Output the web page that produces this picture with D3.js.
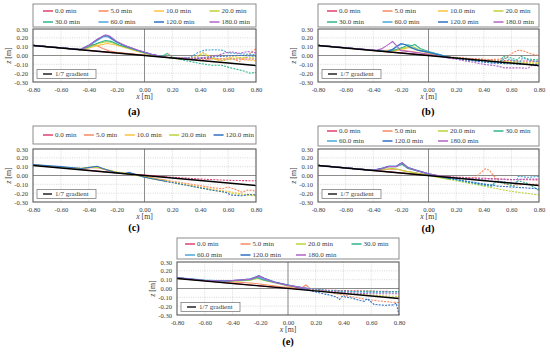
<!DOCTYPE html>
<html><head><meta charset="utf-8">
<script src="https://cdn.jsdelivr.net/npm/d3@7"></script>
<style>body{margin:0;background:#fff}svg{display:block}</style>
</head><body><svg id="c" width="550" height="353"></svg>
<script>
const xTicks = [-0.8,-0.6,-0.4,-0.2,0,0.2,0.4,0.6,0.8];
const zTicks = [0.3,0.2,0.1,0,-0.1,-0.2,-0.3];
const seriesNames = ["0.0 min","5.0 min","10.0 min","20.0 min","30.0 min","60.0 min","120.0 min","180.0 min"];
const seriesColors = ["#e2406f","#f98a62","#fcc33e","#bdd23a","#2fb68c","#47a7d7","#2f71c3","#b063c6"];
const gradientLine = [[-0.80,0.114],[0.80,-0.114]];
const gradientLabel = "1/7 gradient";

// ---- (a)
const a00=[[-0.80,0.115],[-0.60,0.086],[-0.40,0.058],[-0.20,0.030],[0.00,0.003],[0.15,-0.020],[0.30,-0.030],[0.45,-0.035],[0.60,-0.040],[0.80,-0.040]];
const a05=[[-0.80,0.115],[-0.46,0.067],[-0.41,0.095],[-0.37,0.125],[-0.34,0.110],[-0.30,0.080],[-0.25,0.050],[-0.20,0.035],[-0.10,0.020],[0.00,0.005],[0.10,-0.010],[0.15,-0.020],[0.17,0.030],[0.19,-0.020],[0.30,-0.030],[0.40,-0.050],[0.50,-0.035],[0.55,-0.060],[0.62,-0.030],[0.68,-0.070],[0.74,0.000],[0.80,0.080]];
const a10=[[-0.80,0.115],[-0.46,0.067],[-0.40,0.085],[-0.33,0.115],[-0.27,0.135],[-0.22,0.125],[-0.15,0.095],[-0.05,0.045],[0.05,0.005],[0.15,-0.020],[0.25,-0.040],[0.33,-0.040],[0.38,0.000],[0.42,0.035],[0.46,0.000],[0.52,-0.050],[0.58,-0.030],[0.65,-0.010],[0.72,-0.050],[0.80,-0.060]];
const a20=[[-0.80,0.115],[-0.46,0.067],[-0.40,0.095],[-0.33,0.135],[-0.28,0.155],[-0.24,0.150],[-0.18,0.115],[-0.08,0.065],[0.02,0.020],[0.12,-0.015],[0.22,-0.035],[0.32,-0.040],[0.38,-0.010],[0.42,0.020],[0.48,-0.030],[0.55,-0.060],[0.62,-0.040],[0.70,-0.020],[0.80,-0.030]];
const a30=[[-0.80,0.115],[-0.46,0.067],[-0.40,0.100],[-0.33,0.145],[-0.28,0.170],[-0.24,0.160],[-0.18,0.120],[-0.08,0.070],[0.02,0.020],[0.12,-0.010],[0.16,0.020],[0.20,-0.020],[0.30,-0.060],[0.40,-0.090],[0.48,-0.110],[0.55,-0.110],[0.62,-0.140],[0.70,-0.170],[0.76,-0.200],[0.80,-0.190]];
const a60=[[-0.80,0.115],[-0.46,0.067],[-0.40,0.110],[-0.34,0.170],[-0.29,0.215],[-0.26,0.210],[-0.20,0.150],[-0.14,0.110],[-0.05,0.060],[0.05,0.015],[0.15,-0.020],[0.25,-0.030],[0.33,-0.020],[0.38,0.030],[0.43,0.060],[0.50,0.065],[0.56,0.060],[0.60,0.030],[0.68,0.020],[0.80,0.010]];
const a120=[[-0.80,0.115],[-0.46,0.067],[-0.40,0.115],[-0.34,0.180],[-0.29,0.225],[-0.26,0.220],[-0.20,0.155],[-0.14,0.110],[-0.05,0.060],[0.05,0.015],[0.15,-0.020],[0.25,-0.035],[0.35,-0.040],[0.45,-0.020],[0.55,-0.010],[0.65,0.000],[0.72,0.000],[0.80,-0.010]];
const a180=[[-0.80,0.115],[-0.46,0.067],[-0.40,0.115],[-0.34,0.185],[-0.28,0.235],[-0.25,0.220],[-0.20,0.160],[-0.14,0.112],[-0.05,0.062],[0.05,0.015],[0.15,-0.020],[0.25,-0.030],[0.35,-0.030],[0.45,-0.020],[0.52,0.000],[0.58,0.030],[0.63,0.040],[0.68,0.025],[0.74,0.045],[0.80,0.030]];
// ---- (b)
const b00=[[-0.80,0.115],[-0.40,0.058],[-0.20,0.030],[0.00,0.003],[0.15,-0.020],[0.30,-0.035],[0.45,-0.050],[0.60,-0.060],[0.80,-0.065]];
const b05=[[-0.80,0.115],[-0.36,0.053],[-0.30,0.058],[-0.24,0.065],[-0.19,0.060],[-0.12,0.045],[-0.05,0.025],[0.05,0.005],[0.15,-0.015],[0.30,-0.035],[0.45,-0.045],[0.52,-0.040],[0.57,-0.020],[0.61,0.030],[0.65,0.060],[0.69,0.050],[0.74,0.020],[0.80,0.000]];
const b10=[[-0.80,0.115],[-0.30,0.045],[-0.24,0.055],[-0.18,0.075],[-0.14,0.090],[-0.10,0.075],[-0.05,0.045],[0.05,0.010],[0.15,-0.020],[0.30,-0.045],[0.45,-0.060],[0.60,-0.070],[0.70,-0.080],[0.80,-0.085]];
const b20=[[-0.80,0.115],[-0.30,0.045],[-0.24,0.060],[-0.18,0.085],[-0.13,0.105],[-0.10,0.090],[-0.05,0.055],[0.05,0.015],[0.15,-0.020],[0.30,-0.050],[0.45,-0.065],[0.60,-0.075],[0.70,-0.085],[0.80,-0.090]];
const b30=[[-0.80,0.115],[-0.30,0.045],[-0.24,0.065],[-0.18,0.095],[-0.15,0.120],[-0.12,0.110],[-0.10,0.125],[-0.06,0.080],[0.00,0.045],[0.08,0.010],[0.15,-0.020],[0.30,-0.050],[0.45,-0.070],[0.52,-0.070],[0.54,-0.010],[0.58,-0.020],[0.64,-0.050],[0.67,-0.010],[0.72,-0.040],[0.80,-0.050]];
const b60=[[-0.80,0.115],[-0.30,0.045],[-0.26,0.065],[-0.22,0.110],[-0.19,0.130],[-0.16,0.120],[-0.13,0.095],[-0.08,0.065],[0.00,0.040],[0.08,0.010],[0.15,-0.020],[0.30,-0.055],[0.45,-0.080],[0.52,-0.080],[0.55,-0.030],[0.62,-0.060],[0.66,-0.080],[0.68,-0.030],[0.75,-0.060],[0.80,-0.070]];
const b120=[[-0.80,0.115],[-0.30,0.045],[-0.26,0.070],[-0.22,0.115],[-0.20,0.135],[-0.17,0.125],[-0.13,0.090],[-0.08,0.060],[0.00,0.035],[0.08,0.005],[0.15,-0.020],[0.30,-0.055],[0.45,-0.085],[0.60,-0.095],[0.70,-0.100],[0.80,-0.105]];
const b180=[[-0.80,0.115],[-0.38,0.060],[-0.34,0.075],[-0.30,0.115],[-0.26,0.158],[-0.23,0.110],[-0.20,0.055],[-0.12,0.040],[-0.05,0.025],[0.05,0.000],[0.15,-0.030],[0.30,-0.070],[0.40,-0.100],[0.50,-0.120],[0.55,-0.140],[0.65,-0.140],[0.72,-0.145],[0.75,-0.110],[0.80,-0.120]];
// ---- (c)
const c00=[[-0.80,0.120],[-0.60,0.090],[-0.40,0.060],[-0.20,0.030],[0.00,0.005],[0.20,-0.020],[0.40,-0.040],[0.60,-0.055],[0.80,-0.060]];
const c05=[[-0.80,0.120],[-0.55,0.085],[-0.45,0.080],[-0.38,0.090],[-0.33,0.085],[-0.28,0.065],[-0.20,0.035],[-0.10,0.015],[0.00,-0.010],[0.10,-0.040],[0.20,-0.065],[0.30,-0.090],[0.40,-0.115],[0.50,-0.140],[0.56,-0.150],[0.60,-0.130],[0.64,-0.150],[0.70,-0.190],[0.74,-0.165],[0.78,-0.170],[0.80,-0.190]];
const c10=[[-0.80,0.120],[-0.55,0.085],[-0.45,0.080],[-0.38,0.092],[-0.33,0.090],[-0.28,0.065],[-0.20,0.035],[-0.10,0.015],[0.00,-0.015],[0.10,-0.045],[0.20,-0.075],[0.30,-0.100],[0.40,-0.130],[0.50,-0.160],[0.60,-0.180],[0.70,-0.210],[0.80,-0.220]];
const c20=[[-0.80,0.120],[-0.55,0.085],[-0.45,0.082],[-0.38,0.095],[-0.33,0.095],[-0.28,0.070],[-0.20,0.038],[-0.10,0.018],[0.00,-0.018],[0.10,-0.050],[0.20,-0.080],[0.30,-0.110],[0.40,-0.140],[0.50,-0.170],[0.60,-0.195],[0.70,-0.220],[0.80,-0.230]];
const c120=[[-0.80,0.125],[-0.60,0.100],[-0.45,0.080],[-0.38,0.095],[-0.34,0.105],[-0.30,0.080],[-0.22,0.040],[-0.15,0.020],[-0.11,0.035],[-0.08,0.020],[0.00,-0.020],[0.10,-0.050],[0.20,-0.080],[0.30,-0.110],[0.40,-0.140],[0.50,-0.170],[0.58,-0.190],[0.62,-0.220],[0.70,-0.230],[0.75,-0.215],[0.80,-0.220]];
// ---- (d)
const d00=[[-0.80,0.115],[-0.40,0.058],[-0.20,0.030],[0.00,0.003],[0.15,-0.015],[0.30,-0.025],[0.45,-0.035],[0.60,-0.045],[0.80,-0.050]];
const d05=[[-0.80,0.115],[-0.40,0.058],[-0.33,0.065],[-0.27,0.075],[-0.22,0.068],[-0.15,0.045],[-0.05,0.020],[0.05,-0.005],[0.15,-0.020],[0.25,-0.030],[0.33,-0.035],[0.37,0.020],[0.41,0.075],[0.44,0.060],[0.47,0.000],[0.51,-0.070],[0.56,-0.100],[0.62,-0.110],[0.70,-0.100],[0.80,-0.100]];
const d20=[[-0.80,0.115],[-0.40,0.060],[-0.32,0.070],[-0.26,0.080],[-0.22,0.070],[-0.18,0.050],[-0.10,0.030],[0.00,0.000],[0.10,-0.030],[0.20,-0.060],[0.30,-0.090],[0.40,-0.120],[0.50,-0.150],[0.60,-0.180],[0.70,-0.200],[0.80,-0.220]];
const d30=[[-0.80,0.115],[-0.40,0.058],[-0.33,0.080],[-0.29,0.100],[-0.24,0.100],[-0.21,0.115],[-0.19,0.125],[-0.15,0.080],[-0.08,0.050],[0.00,0.015],[0.10,-0.020],[0.20,-0.050],[0.30,-0.080],[0.40,-0.110],[0.46,-0.120],[0.48,-0.070],[0.55,-0.090],[0.62,-0.120],[0.65,-0.060],[0.72,-0.090],[0.80,-0.170]];
const d60=[[-0.80,0.115],[-0.40,0.058],[-0.33,0.085],[-0.29,0.105],[-0.23,0.105],[-0.21,0.125],[-0.19,0.140],[-0.15,0.090],[-0.08,0.055],[0.00,0.020],[0.10,-0.015],[0.20,-0.045],[0.30,-0.070],[0.40,-0.095],[0.47,-0.110],[0.49,-0.060],[0.56,-0.075],[0.63,-0.095],[0.65,-0.010],[0.72,-0.020],[0.80,-0.010]];
const d120=[[-0.80,0.115],[-0.40,0.058],[-0.33,0.085],[-0.29,0.105],[-0.23,0.105],[-0.21,0.130],[-0.19,0.145],[-0.15,0.090],[-0.08,0.055],[0.00,0.020],[0.10,-0.015],[0.20,-0.045],[0.30,-0.075],[0.40,-0.100],[0.50,-0.120],[0.60,-0.130],[0.70,-0.140],[0.80,-0.150]];
const d180=[[-0.80,0.115],[-0.40,0.058],[-0.33,0.080],[-0.29,0.100],[-0.23,0.100],[-0.21,0.125],[-0.19,0.140],[-0.15,0.090],[-0.08,0.050],[0.00,0.020],[0.10,-0.010],[0.20,-0.025],[0.30,-0.035],[0.40,-0.040],[0.50,-0.040],[0.60,-0.050],[0.70,-0.040],[0.80,-0.040]];
// ---- (e)
const e00=[[-0.80,0.120],[-0.40,0.058],[-0.20,0.030],[0.00,0.003],[0.15,-0.010],[0.30,-0.020],[0.45,-0.025],[0.60,-0.030],[0.80,-0.035]];
const e05=[[-0.80,0.115],[-0.50,0.075],[-0.35,0.070],[-0.25,0.060],[-0.15,0.040],[-0.05,0.020],[0.05,0.005],[0.10,0.010],[0.13,0.040],[0.16,0.000],[0.25,-0.030],[0.35,-0.060],[0.45,-0.090],[0.55,-0.120],[0.65,-0.140],[0.75,-0.155],[0.80,-0.160]];
const e20=[[-0.80,0.120],[-0.60,0.090],[-0.45,0.080],[-0.35,0.085],[-0.27,0.095],[-0.22,0.115],[-0.18,0.095],[-0.10,0.065],[0.00,0.030],[0.10,0.005],[0.20,-0.020],[0.30,-0.035],[0.40,-0.050],[0.50,-0.065],[0.60,-0.075],[0.70,-0.085],[0.80,-0.090]];
const e30=[[-0.80,0.120],[-0.60,0.090],[-0.45,0.085],[-0.35,0.090],[-0.27,0.100],[-0.22,0.125],[-0.18,0.100],[-0.10,0.070],[0.00,0.035],[0.10,0.010],[0.20,-0.010],[0.30,-0.025],[0.40,-0.030],[0.50,-0.035],[0.60,-0.030],[0.70,-0.040],[0.80,-0.035]];
const e60=[[-0.80,0.125],[-0.60,0.095],[-0.45,0.085],[-0.35,0.095],[-0.27,0.105],[-0.22,0.130],[-0.18,0.105],[-0.10,0.070],[0.00,0.040],[0.10,0.010],[0.20,-0.010],[0.30,-0.025],[0.40,-0.035],[0.50,-0.040],[0.60,-0.045],[0.70,-0.040],[0.80,-0.040]];
const e120=[[-0.80,0.120],[-0.60,0.090],[-0.45,0.085],[-0.35,0.095],[-0.27,0.110],[-0.21,0.145],[-0.17,0.115],[-0.10,0.075],[0.00,0.040],[0.10,0.000],[0.20,-0.040],[0.30,-0.075],[0.35,-0.095],[0.37,-0.125],[0.39,-0.090],[0.45,-0.105],[0.52,-0.135],[0.55,-0.145],[0.57,-0.115],[0.62,-0.180],[0.70,-0.190],[0.76,-0.185],[0.78,-0.165],[0.80,-0.300]];
const e180=[[-0.80,0.120],[-0.60,0.090],[-0.45,0.085],[-0.35,0.095],[-0.27,0.105],[-0.21,0.140],[-0.17,0.110],[-0.10,0.070],[0.00,0.035],[0.10,0.010],[0.20,-0.015],[0.30,-0.030],[0.40,-0.045],[0.50,-0.055],[0.60,-0.060],[0.70,-0.060],[0.80,-0.060]];

const panels = [
  {label:"(a)", series:[0,1,2,3,4,5,6,7], data:[a00,a05,a10,a20,a30,a60,a120,a180],
   plot:[33,256,29,82], leg:[33,256,4,27], rows:[11,22], cols:4, colW:55.5, legOff:10, lab:[134,115]},
  {label:"(b)", series:[0,1,2,3,4,5,6,7], data:[b00,b05,b10,b20,b30,b60,b120,b180],
   plot:[318,539,29,82], leg:[318,539,4,27], rows:[11,22], cols:4, colW:55.5, legOff:9, lab:[428,115]},
  {label:"(c)", series:[0,1,2,3,6], data:[c00,c05,c10,c20,c120],
   plot:[33,256,149,202], leg:[33,256,126,144], rows:[135], cols:5, colW:null, legOff:10, lab:[134,230.5]},
  {label:"(d)", series:[0,1,3,4,5,6,7], data:[d00,d05,d20,d30,d60,d120,d180],
   plot:[318,539,149,202], leg:[318,539,126,146], rows:[131,141], cols:4, colW:55.5, legOff:9, lab:[428,231.5]},
  {label:"(e)", series:[0,1,3,4,5,6,7], data:[e00,e05,e20,e30,e60,e120,e180],
   plot:[177,399,262,315], leg:[177,399,238,259], rows:[244,255], cols:4, colW:55.5, legOff:8, lab:[288,345]}
];

const svg = d3.select("#c");
const FONT = "'Liberation Serif','Times New Roman',serif";
const fmt = v => d3.format(".2f")(v).replace("\u2212","-");
const SPLIT = 0.15;

function splitSeries(pts){
  const solid=[], dashed=[];
  for(let i=0;i<pts.length;i++){
    const p=pts[i];
    if(i>0){
      const q=pts[i-1];
      if(q[0]<SPLIT && p[0]>SPLIT){
        const t=(SPLIT-q[0])/(p[0]-q[0]);
        const m=[SPLIT,q[1]+t*(p[1]-q[1])];
        solid.push(m); dashed.push(m);
      }
    }
    if(p[0]<=SPLIT) solid.push(p);
    if(p[0]>=SPLIT) dashed.push(p);
  }
  return [solid,dashed];
}

panels.forEach((P,pi)=>{
  const [x0,x1,y0,y1]=P.plot;
  const x=d3.scaleLinear().domain([-0.8,0.8]).range([x0,x1]);
  const y=d3.scaleLinear().domain([-0.3,0.3]).range([y1,y0]);
  const g=svg.append("g");
  g.append("g").selectAll("line").data(xTicks.slice(1,-1)).join("line")
    .attr("x1",d=>x(d)).attr("x2",d=>x(d)).attr("y1",y0).attr("y2",y1)
    .attr("stroke","#c8c8c8").attr("stroke-width",0.7).attr("stroke-dasharray","1,1.3");
  g.append("g").selectAll("line").data(zTicks.slice(1,-1)).join("line")
    .attr("y1",d=>y(d)).attr("y2",d=>y(d)).attr("x1",x0).attr("x2",x1)
    .attr("stroke","#c8c8c8").attr("stroke-width",0.7).attr("stroke-dasharray","1,1.3");
  g.append("line").attr("x1",x(0)).attr("x2",x(0)).attr("y1",y0).attr("y2",y1).attr("stroke","#8c8c8c").attr("stroke-width",1);
  g.append("line").attr("x1",x0).attr("x2",x1).attr("y1",y(0)).attr("y2",y(0)).attr("stroke","#8c8c8c").attr("stroke-width",1);

  const line=d3.line().x(d=>x(d[0])).y(d=>y(d[1]));
  P.data.forEach((pts,k)=>{
    const col=seriesColors[P.series[k]];
    const [s,dsh]=splitSeries(pts);
    g.append("path").attr("d",line(s)).attr("fill","none").attr("stroke",col).attr("stroke-width",1.1);
    g.append("path").attr("d",line(dsh)).attr("fill","none").attr("stroke",col).attr("stroke-width",1.1).attr("stroke-dasharray","2,1.2");
  });
  g.append("path").attr("d",line(gradientLine)).attr("fill","none").attr("stroke","#000").attr("stroke-width",1.4);

  g.append("rect").attr("x",x0).attr("y",y0).attr("width",x1-x0).attr("height",y1-y0)
    .attr("fill","none").attr("stroke","#595959").attr("stroke-width",1.1);

  const ax=g.append("g").attr("transform",`translate(0,${y1})`)
    .call(d3.axisBottom(x).tickValues(xTicks).tickSize(0).tickPadding(5).tickFormat(fmt));
  ax.select(".domain").remove();
  ax.selectAll("text").attr("font-family",FONT).attr("font-size",6.6).attr("fill","#404040");
  const ay=g.append("g").attr("transform",`translate(${x0},0)`)
    .call(d3.axisLeft(y).tickValues(zTicks).tickSize(0).tickPadding(5).tickFormat(fmt));
  ay.select(".domain").remove();
  ay.selectAll("text").attr("font-family",FONT).attr("font-size",6.6).attr("fill","#404040");

  const xt=g.append("text").attr("x",x(0)).attr("y",y1+17).attr("text-anchor","middle")
    .attr("font-family",FONT).attr("font-size",7.8).attr("fill","#404040");
  xt.append("tspan").attr("font-style","italic").text("x");
  xt.append("tspan").text(" [m]");
  const zt=g.append("text").attr("transform",`translate(${x0-22},${(y0+y1)/2}) rotate(-90)`).attr("text-anchor","middle")
    .attr("font-family",FONT).attr("font-size",7.8).attr("fill","#404040");
  zt.append("tspan").attr("font-style","italic").text("z");
  zt.append("tspan").text(" [m]");

  const gb=g.append("g");
  gb.append("rect").attr("x",x0+4).attr("y",y1-12.5).attr("width",59).attr("height",9)
    .attr("fill","#fff").attr("stroke","#7f7f7f").attr("stroke-width",0.8);
  gb.append("line").attr("x1",x0+10).attr("x2",x0+19).attr("y1",y1-8).attr("y2",y1-8).attr("stroke","#000").attr("stroke-width",1.3);
  gb.append("text").attr("x",x0+22).attr("y",y1-5.6).attr("font-family",FONT).attr("font-size",7).attr("fill","#404040").text(gradientLabel);

  const [lx0,lx1,ly0,ly1]=P.leg;
  g.append("rect").attr("x",lx0).attr("y",ly0).attr("width",lx1-lx0).attr("height",ly1-ly0)
    .attr("fill","#fff").attr("stroke","#7f7f7f").attr("stroke-width",0.9);
  let cx=lx0+P.legOff;
  P.series.forEach((si,k)=>{
    const r=Math.floor(k/P.cols), c=k%P.cols;
    const yy=P.rows[r];
    const sx = P.colW ? lx0+P.legOff+c*P.colW : cx;
    g.append("line").attr("x1",sx).attr("x2",sx+10).attr("y1",yy).attr("y2",yy)
      .attr("stroke",seriesColors[si]).attr("stroke-width",1.5);
    const t=g.append("text").attr("x",sx+12).attr("y",yy+2.4).attr("font-family",FONT).attr("font-size",7)
      .attr("fill","#404040").text(seriesNames[si]);
    if(!P.colW){ cx=sx+12+t.node().getComputedTextLength()+7.5; }
  });

  svg.append("text").attr("x",P.lab[0]).attr("y",P.lab[1]).attr("text-anchor","middle")
    .attr("font-family",FONT).attr("font-weight","bold").attr("font-size",10.5).attr("fill","#000").text(P.label);
});
</script></body></html>
